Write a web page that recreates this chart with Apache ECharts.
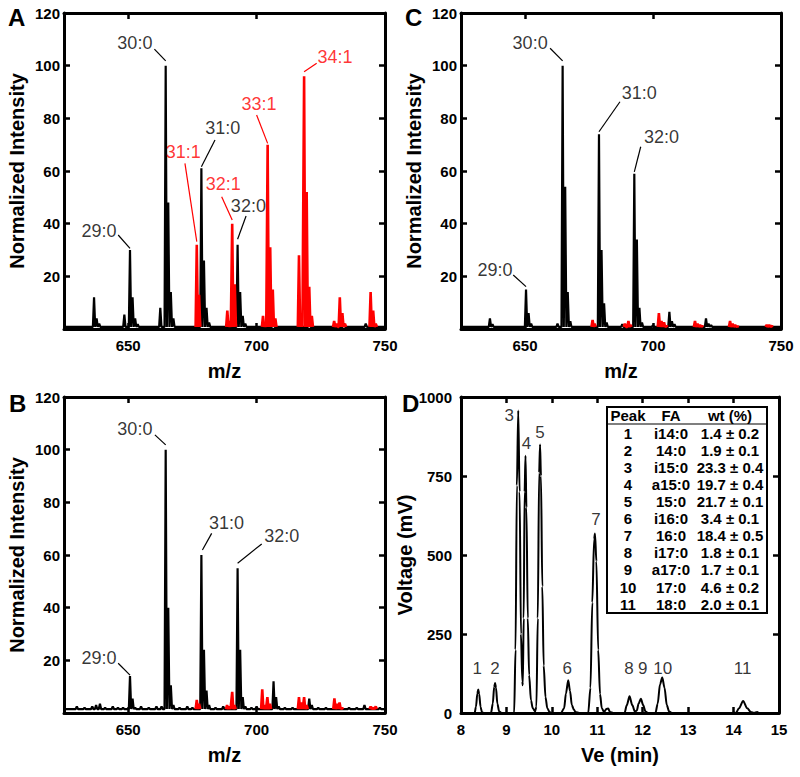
<!DOCTYPE html>
<html>
<head>
<meta charset="utf-8">
<script src="https://cdn.jsdelivr.net/npm/echarts@6/dist/echarts.min.js"></script>
<style>
  html, body { margin: 0; padding: 0; background: #fff; }
  #chart { width: 800px; height: 777px; }
</style>
</head>
<body>
<div id="chart"></div>
<script>
// ---------- data ----------
const mzTicks = [650, 700, 750];

// peak tops [m/z, normalized intensity]
const specA_black = [
  [636.7, 12], [637.7, 4], [638.7, 2], [648.5, 5.5], [650.7, 30], [651.7, 12], [652.7, 4], [653.7, 1.8],
  [662.5, 8], [664.6, 100], [665.6, 48], [666.6, 14], [667.6, 4], [678.5, 61], [679.5, 26], [680.5, 8],
  [681.5, 2.5], [692.6, 32], [693.6, 14], [694.6, 5], [695.6, 2], [706.5, 3], [720.5, 3], [734, 2], [742.5, 2]
];
const specA_red = [
  [676.7, 32], [677.6, 13],
  [688.6, 7], [689.5, 3], [690.5, 40], [691.5, 17],
  [702.5, 5], [703.3, 2], [704.3, 70], [705.3, 31], [706.3, 15], [707.3, 4],
  [716.5, 28], [717.4, 6], [718.5, 96], [719.5, 52], [720.5, 16], [721.5, 5],
  [730.2, 3], [731.2, 2], [732.4, 12], [733.4, 6], [734.4, 2],
  [744.4, 14], [745.4, 7], [746.4, 2]
];
const specB_black = [
  [630, 2.5], [633, 2], [636, 2.5], [637.5, 3], [639, 3.5], [641, 2], [644, 2.5], [646, 2], [648, 2],
  [650.7, 14], [651.7, 5.5], [652.7, 2], [655, 2.5], [658, 2], [661, 2.5], [663, 2.5],
  [664.6, 100], [665.6, 40], [666.6, 10.5], [667.6, 3], [670, 2], [673, 2.5], [675, 2],
  [678.5, 60], [679.5, 24], [680.5, 8.5], [681.5, 3], [684, 2], [687, 2.5],
  [692.6, 55], [693.6, 24], [694.6, 6], [695.6, 2.5], [698, 2], [700, 2.5],
  [706.6, 12], [707.6, 6], [708.6, 2.5], [711, 2], [714, 2], [720.5, 5.5], [721.5, 3],
  [724, 2], [727, 2], [736, 2], [739, 2], [742, 3], [748, 2]
];
const specB_red = [
  [676.7, 5], [677.6, 3.5],
  [688.5, 3], [689.4, 2.5], [690.5, 8], [691.4, 3],
  [702.2, 9], [703.2, 3], [704.2, 6], [705.2, 3.5],
  [716.5, 6], [717.5, 4], [718.5, 6], [719.5, 3],
  [730.3, 5.5], [731.3, 3.5], [732.3, 4], [733.3, 2],
  [744.4, 2.5], [745.4, 2], [746.4, 2.5]
];
const specC_black = [
  [636.3, 4], [637.3, 1.8], [650.4, 15], [651.4, 6], [652.4, 2], [662.7, 2],
  [664.7, 100], [665.7, 54], [666.7, 14], [667.7, 3], [678.9, 74], [679.9, 30], [680.9, 9.8], [681.9, 2.5],
  [688, 1.8], [692.7, 59], [693.7, 34], [694.7, 8], [695.7, 2.5], [700, 1.5],
  [706.4, 6.5], [707.4, 3], [708.4, 1.8], [720.7, 4], [721.7, 2], [722.7, 1.5]
];
const specC_red = [
  [676.4, 3.4], [677.2, 2],
  [689, 2], [690.4, 3], [691.2, 1.5],
  [702.3, 6], [703.3, 3], [704.3, 2.5], [705.3, 1.2],
  [716.4, 3], [717.4, 2], [718.4, 1.5], [719.2, 1.2],
  [730.1, 3], [731.1, 2], [732.1, 1.5], [733.1, 1],
  [744.4, 1.5], [745.4, 1.5], [746.4, 1.2]
];

// peak annotations: [text, label m/z, label y, leader from m/z, y, to m/z, y, red?]
const notesA = [
  ["30:0", 652.6, 108.5, 660.2, 106.3, 664.6, 101.8, 0],
  ["29:0", 638.6, 37.2, 646.1, 35.7, 650.7, 30.6, 0],
  ["31:0", 686.8, 76.5, 683.8, 71.8, 678.5, 61.6, 0],
  ["31:1", 671.4, 67.3, 672.1, 62.9, 676.7, 33.2, 1],
  ["32:1", 687.0, 55.0, 686.4, 50.2, 690.5, 41.4, 1],
  ["32:0", 696.8, 46.8, 695.9, 42.9, 692.6, 34.1, 0],
  ["33:1", 700.9, 85.5, 700.0, 81.3, 704.3, 70.5, 1],
  ["34:1", 730.5, 103.4, 723.4, 100.9, 718.5, 97.7, 1]
];
const notesB = [
  ["30:0", 652.6, 107.7, 660.4, 105.6, 664.6, 101.8, 0],
  ["29:0", 638.6, 20.8, 646.1, 18.9, 650.7, 14.4, 0],
  ["31:0", 688.3, 72.0, 682.5, 68.2, 678.9, 61.9, 0],
  ["32:0", 709.8, 67.3, 702.0, 64.2, 692.6, 56.9, 0]
];
const notesC = [
  ["30:0", 652.0, 108.5, 659.8, 106.6, 664.7, 101.8, 0],
  ["29:0", 638.3, 22.4, 645.4, 20.5, 650.4, 16.1, 0],
  ["31:0", 694.6, 89.7, 687.1, 86.3, 678.9, 74.9, 0],
  ["32:0", 703.3, 73.0, 695.2, 69.2, 692.7, 59.7, 0]
];

// GC trace [Ve (min), voltage (mV)]
const gcTrace = [
  [8.00, 0], [8.30, 0], [8.33, 20], [8.36, 62], [8.38, 74], [8.40, 60], [8.43, 20], [8.46, 3], [8.50, 0],
  [8.66, 0], [8.70, 30], [8.73, 82], [8.75, 95], [8.77, 80], [8.80, 30], [8.84, 5], [8.90, 0],
  [9.17, 0], [9.20, 200], [9.23, 720], [9.26, 957], [9.29, 700], [9.32, 250], [9.35, 100], [9.36, 88],
  [9.38, 300], [9.40, 700], [9.42, 814], [9.44, 650], [9.47, 300], [9.50, 120], [9.54, 40], [9.58, 15],
  [9.63, 5], [9.66, 20], [9.69, 300], [9.72, 760], [9.74, 850], [9.76, 750], [9.79, 400], [9.82, 150],
  [9.86, 50], [9.90, 15], [9.95, 3], [10.00, 0],
  [10.20, 0], [10.27, 15], [10.31, 62], [10.36, 104], [10.40, 70], [10.44, 25], [10.48, 12], [10.52, 3], [10.60, 0],
  [10.80, 0], [10.85, 80], [10.89, 350], [10.93, 550], [10.95, 568], [10.98, 480], [11.02, 200], [11.06, 60],
  [11.10, 15], [11.15, 3], [11.20, 13], [11.24, 14], [11.28, 3], [11.35, 0],
  [11.60, 0], [11.65, 25], [11.71, 53], [11.77, 25], [11.83, 4], [11.87, 8], [11.91, 30], [11.96, 45],
  [12.01, 25], [12.06, 5], [12.12, 0],
  [12.28, 0], [12.33, 30], [12.38, 90], [12.43, 112], [12.48, 80], [12.53, 25], [12.58, 5], [12.65, 0],
  [13.98, 0], [14.00, 2], [14.05, 0], [14.12, 15], [14.21, 38], [14.30, 15], [14.38, 3], [14.45, 0],
  [14.52, 3], [14.56, 0], [15.00, 0]
];
// peak numbers [text, Ve, mV]
const gcLabels = [
  ["1", 8.36, 142], ["2", 8.75, 142], ["3", 9.06, 943], ["4", 9.44, 854], ["5", 9.74, 887],
  ["6", 10.34, 142], ["7", 10.97, 613], ["8", 11.70, 142], ["9", 12.00, 142], ["10", 12.44, 142], ["11", 14.20, 142]
];

// inset table
const tableHead = ["Peak", "FA", "wt (%)"];
const tablePeaks = ["1", "2", "3", "4", "5", "6", "7", "8", "9", "10", "11"];
const tableFA = ["i14:0", "14:0", "i15:0", "a15:0", "15:0", "i16:0", "16:0", "i17:0", "a17:0", "17:0", "18:0"];
const tableWt = ["1.4 ± 0.2", "1.9 ± 0.1", "23.3 ± 0.4", "19.7 ± 0.4", "21.7 ± 0.1", "3.4 ± 0.1",
  "18.4 ± 0.5", "1.8 ± 0.1", "1.7 ± 0.1", "4.6 ± 0.2", "2.0 ± 0.1"];

// ---------- helpers ----------
const FONT = "Liberation Sans, Arial, Helvetica, sans-serif";
const RED = "#ff0000";

// stick spectrum line from peak tops; gapped = break line between clusters
function sticks(peaks, base, gapped) {
  const pts = [];
  if (!gapped) pts.push([625, base]);
  peaks.forEach((p, i) => {
    const prev = peaks[i - 1];
    if (gapped && prev && p[0] - prev[0] > 1.6) pts.push([prev[0] + 0.5, "-"]);
    pts.push([p[0] - 0.45, base], [p[0], p[1]], [p[0] + 0.45, base]);
  });
  if (!gapped) pts.push([750, base]);
  return pts;
}

const grids = [
  { left: 64, top: 13, width: 321, height: 316 },   // A
  { left: 64, top: 397, width: 321, height: 316 },  // B
  { left: 461, top: 13, width: 320, height: 316 },  // C
  { left: 461, top: 397, width: 318, height: 316 }  // D
];

const axisLine = { onZero: false, lineStyle: { color: "#000", width: 3 } };
const tickStyle = { color: "#000", width: 2.5 };
const tickLabel = { color: "#000", fontSize: 15, fontWeight: "bold", fontFamily: FONT };
const nameStyle = { color: "#000", fontSize: 20, fontWeight: "bold", fontFamily: FONT };

const xAxes = [];
const yAxes = [];
for (let g = 0; g < 3; g++) {
  const mz = {
    gridIndex: g, type: "value", min: 625, max: 750,
    axisLine, splitLine: { show: false },
    axisTick: { inside: true, length: 6, lineStyle: tickStyle, customValues: mzTicks },
  };
  xAxes.push(Object.assign({}, mz, {
    position: "bottom",
    axisLabel: Object.assign({ customValues: mzTicks, margin: 9 }, tickLabel),
    name: "m/z", nameLocation: "middle", nameGap: 32, nameTextStyle: nameStyle
  }));
  xAxes.push(Object.assign({}, mz, { position: "top", axisLabel: { show: false } }));
  const inten = {
    gridIndex: g, type: "value", min: 0, max: 120, interval: 20,
    axisLine, splitLine: { show: false },
    axisTick: { inside: true, length: 6, lineStyle: tickStyle },
  };
  yAxes.push(Object.assign({}, inten, {
    position: "left",
    axisLabel: Object.assign({ margin: 4, formatter: (v) => (v === 0 ? "" : String(v)) }, tickLabel),
    name: "Normalized Intensity", nameLocation: "middle", nameGap: 37, nameTextStyle: nameStyle
  }));
  yAxes.push(Object.assign({}, inten, { position: "right", axisLabel: { show: false } }));
}
// D
const veAxis = {
  gridIndex: 3, type: "value", min: 8, max: 15, interval: 1,
  axisLine, splitLine: { show: false },
  axisTick: { inside: true, length: 6, lineStyle: tickStyle },
};
xAxes.push(Object.assign({}, veAxis, {
  position: "bottom", axisLabel: Object.assign({ margin: 9 }, tickLabel),
  name: "Ve (min)", nameLocation: "middle", nameGap: 32, nameTextStyle: nameStyle
}));
xAxes.push(Object.assign({}, veAxis, { position: "top", axisLabel: { show: false } }));
const mvAxis = {
  gridIndex: 3, type: "value", min: 0, max: 1000, interval: 250,
  axisLine, splitLine: { show: false },
  axisTick: { inside: true, length: 6, lineStyle: tickStyle },
};
yAxes.push(Object.assign({}, mvAxis, {
  position: "left", axisLabel: Object.assign({ margin: 9, formatter: (v) => String(v) }, tickLabel),
  name: "Voltage (mV)", nameLocation: "middle", nameGap: 40, nameTextStyle: nameStyle
}));
yAxes.push(Object.assign({}, mvAxis, { position: "right", axisLabel: { show: false } }));

// ---------- series ----------
const series = [];
function spectrum(g, black, red, notes, base) {
  const ax = { xAxisIndex: 2 * g, yAxisIndex: 2 * g };
  series.push(Object.assign({
    type: "line", data: sticks(black, base, false), showSymbol: false, silent: true,
    lineStyle: { color: "#000", width: 2.2 }, z: 2
  }, ax));
  series.push(Object.assign({
    type: "line", data: sticks(red, base, true), showSymbol: false, silent: true, connectNulls: false,
    lineStyle: { color: RED, width: 2.6 }, z: 3
  }, ax));
  series.push(Object.assign({
    type: "lines", coordinateSystem: "cartesian2d", silent: true, z: 4,
    data: notes.map((n) => ({
      coords: [[n[3], n[4]], [n[5], n[6]]],
      lineStyle: { color: n[7] ? RED : "#000", width: 1.2, opacity: 1 }
    }))
  }, ax));
  series.push(Object.assign({
    type: "scatter", symbolSize: 0, silent: true, z: 5,
    data: notes.map((n) => ({
      value: [n[1], n[2]], name: n[0],
      label: { color: n[7] ? RED : "#000" }
    })),
    label: { show: true, position: "inside", formatter: "{b}", fontSize: 18, fontFamily: FONT,
      textBorderWidth: 0 }
  }, ax));
}
spectrum(0, specA_black, specA_red, notesA, 0.8);
spectrum(1, specB_black, specB_red, notesB, 1.5);
spectrum(2, specC_black, specC_red, notesC, 0.8);

series.push({
  type: "line", xAxisIndex: 6, yAxisIndex: 6, data: gcTrace, showSymbol: false, silent: true,
  smooth: 0.3, smoothMonotone: "x", lineStyle: { color: "#000", width: 2 }
});
series.push({
  type: "scatter", xAxisIndex: 6, yAxisIndex: 6, symbolSize: 0, silent: true,
  data: gcLabels.map((l) => ({ value: [l[1], l[2]], name: l[0] })),
  label: { show: true, position: "inside", formatter: "{b}", fontSize: 17, color: "#000",
    textBorderWidth: 0, fontFamily: FONT }
});

// ---------- panel letters + inset table ----------
const graphic = [];
[["A", 8, 5], ["B", 9, 391], ["C", 405, 5], ["D", 402, 391]].forEach(([t, x, y]) => {
  graphic.push({ type: "text", left: x, top: y,
    style: { text: t, fontSize: 24, fontWeight: "bold", fontFamily: FONT, fill: "#000" } });
});

const tb = { x: 607, y: 407, w: 160, h: 206, headY: 415.5, lineY: 424, rowY: 433.3, rowH: 17.08 };
const colX = [628, 671, 730];
const tableChildren = [
  { type: "rect", shape: { x: tb.x, y: tb.y, width: tb.w, height: tb.h },
    style: { fill: "#fff", stroke: "#000", lineWidth: 2 } },
  { type: "line", shape: { x1: tb.x, y1: tb.lineY, x2: tb.x + tb.w, y2: tb.lineY },
    style: { stroke: "#000", lineWidth: 1.2 } }
];
const cellText = (txt, x, y) => ({
  type: "text", x, y,
  style: { text: txt, fontSize: 15, fontWeight: "bold", fontFamily: FONT, fill: "#000",
    textAlign: "center", textVerticalAlign: "middle" }
});
tableHead.forEach((h, i) => tableChildren.push(cellText(h, colX[i], tb.headY)));
tablePeaks.forEach((p, r) => {
  const y = tb.rowY + r * tb.rowH;
  tableChildren.push(cellText(p, colX[0], y));
  tableChildren.push(cellText(tableFA[r], colX[1], y));
  tableChildren.push(cellText(tableWt[r], colX[2], y));
});
graphic.push({ type: "group", z: 100, children: tableChildren });

const chart = echarts.init(document.getElementById("chart"), null, { renderer: "svg" });
chart.setOption({
  animation: false,
  backgroundColor: "#fff",
  textStyle: { fontFamily: FONT },
  grid: grids,
  xAxis: xAxes,
  yAxis: yAxes,
  series,
  graphic
});
</script>
</body>
</html>
